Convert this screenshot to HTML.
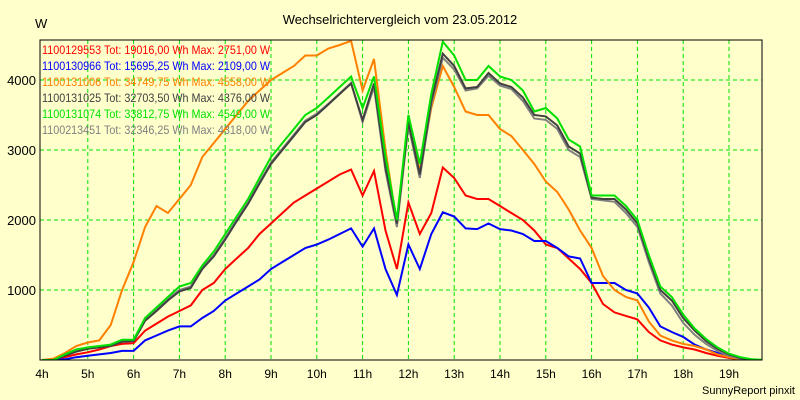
<!DOCTYPE html>
<html><head><meta charset="utf-8"><style>
html,body{margin:0;padding:0;background:#ffffcc;}
svg{display:block;font-family:"Liberation Sans",sans-serif;}
</style></head><body>
<svg id="chart" width="800" height="400" viewBox="0 0 800 400" xmlns="http://www.w3.org/2000/svg">
<rect x="0" y="0" width="800" height="400" fill="#ffffcc"/>
<text x="400" y="24" text-anchor="middle" font-size="13" fill="#000">Wechselrichtervergleich vom 23.05.2012</text>
<text x="35" y="28" font-size="13" fill="#000">W</text>
<text x="795" y="394" text-anchor="end" font-size="11" fill="#000">SunnyReport pinxit</text>
<g id="grid"></g>
<g id="series"></g>
<rect x="40" y="40" width="722" height="320" fill="none" stroke="#000" stroke-width="1"/>
<g id="legend"></g>
</svg>
<script>
const hourTicks = [4,5,6,7,8,9,10,11,12,13,14,15,16,17,18,19];
const yTicks = [1000,2000,3000,4000];
const seriesNames = ["1100129553 Tot: 19016,00 Wh Max: 2751,00 W","1100130966 Tot: 15695,25 Wh Max: 2109,00 W","1100131006 Tot: 34749,75 Wh Max: 4558,00 W","1100131025 Tot: 32703,50 Wh Max: 4376,00 W","1100131074 Tot: 33812,75 Wh Max: 4549,00 W","1100213451 Tot: 32346,25 Wh Max: 4318,00 W"];
const seriesColors = ["#ff0000","#0000ff","#ff8000","#404040","#00e000","#808080"];
const startHour = 4;
const stepHours = 0.25;
const red = [0,0,40,80,110,150,200,230,240,420,520,620,700,780,1000,1100,1300,1450,1600,1800,1950,2100,2250,2350,2450,2550,2650,2720,2350,2700,1850,1300,2250,1800,2100,2750,2600,2350,2300,2300,2200,2100,2000,1850,1650,1600,1450,1300,1100,800,680,630,580,400,280,220,180,150,100,60,30,10,0,0];
const blue = [0,0,10,40,60,80,100,130,130,280,350,420,480,480,600,700,850,950,1050,1150,1300,1400,1500,1600,1650,1720,1800,1880,1620,1880,1300,930,1650,1300,1800,2110,2050,1880,1870,1950,1870,1850,1800,1700,1700,1600,1480,1450,1100,1100,1100,1000,950,750,480,400,330,220,150,100,50,20,0,0];
const orange = [0,20,100,200,250,280,500,1000,1400,1900,2200,2100,2300,2500,2900,3100,3300,3500,3700,3850,4000,4100,4200,4350,4350,4450,4500,4558,3850,4300,3000,1950,3400,2700,3600,4200,3900,3550,3500,3500,3300,3200,3000,2800,2550,2400,2150,1850,1600,1200,1000,900,850,550,350,280,230,200,150,80,40,10,0,0];
const dark = [0,0,60,120,160,180,200,260,270,560,700,850,980,1030,1300,1480,1720,1980,2230,2520,2800,3000,3200,3400,3500,3650,3800,3950,3430,3950,2750,1950,3400,2650,3700,4376,4200,3880,3900,4100,3950,3900,3750,3500,3480,3350,3050,2950,2320,2300,2300,2150,1950,1450,1000,850,600,420,270,160,80,30,5,0];
const green = [0,0,80,150,180,200,220,290,290,600,750,900,1050,1100,1350,1550,1800,2050,2300,2600,2900,3100,3300,3500,3600,3750,3900,4050,3600,4050,2900,2000,3500,2800,3800,4549,4350,4000,4000,4200,4050,4000,3850,3550,3600,3450,3150,3050,2350,2350,2350,2200,2000,1500,1050,900,650,450,300,180,90,40,10,0];
const gray = [0,0,70,130,170,190,210,270,280,580,720,870,1000,1050,1320,1500,1740,2000,2250,2540,2820,3020,3220,3420,3520,3660,3810,3960,3400,3900,2700,1900,3350,2600,3650,4318,4150,3850,3880,4060,3920,3870,3700,3450,3430,3300,3000,2900,2300,2280,2260,2100,1900,1400,950,780,530,360,230,130,60,20,0,0];
const seriesData = [red, blue, orange, dark, green, gray];

const NS = "http://www.w3.org/2000/svg";
function xScale(h){ return 42 + (h - 4) * 45.8; }
function yScale(v){ return 360 - v * 0.07; }

const grid = document.getElementById("grid");
hourTicks.forEach(h => {
  const x = xScale(h);
  if (h > 4) {
    const l = document.createElementNS(NS, "line");
    
    
    l.setAttribute("x1", x); l.setAttribute("x2", x);
    l.setAttribute("y1", 40); l.setAttribute("y2", 360);
    l.setAttribute("stroke", "#00e000"); l.setAttribute("stroke-dasharray", "4,3");
    grid.appendChild(l);
  }
  const t = document.createElementNS(NS, "text");
  
  
  t.setAttribute("x", x); t.setAttribute("y", 378);
  t.setAttribute("text-anchor", "middle"); t.setAttribute("font-size", "12");
  t.textContent = h + "h";
  grid.appendChild(t);
});
yTicks.forEach(v => {
  const y = yScale(v);
  const l = document.createElementNS(NS, "line");
  
  
  l.setAttribute("x1", 40); l.setAttribute("x2", 762);
  l.setAttribute("y1", y); l.setAttribute("y2", y);
  l.setAttribute("stroke", "#00e000"); l.setAttribute("stroke-dasharray", "4,3");
  grid.appendChild(l);
  const t = document.createElementNS(NS, "text");
  
  
  t.setAttribute("x", 36); t.setAttribute("y", y + 5);
  t.setAttribute("text-anchor", "end"); t.setAttribute("font-size", "13");
  t.textContent = v;
  grid.appendChild(t);
});

const defs = document.createElementNS(NS, "defs");
defs.innerHTML = '<clipPath id="plotclip"><rect x="40" y="38" width="722" height="322"/></clipPath>';
document.getElementById("chart").insertBefore(defs, grid);

const sg = document.getElementById("series");
const order = [0,1,2,5,3,4];
order.forEach(i => {
  const pts = seriesData[i].map((v, k) => xScale(startHour + k * stepHours).toFixed(1) + "," + yScale(v).toFixed(1)).join(" ");
  const p = document.createElementNS(NS, "polyline");
  
  
  p.setAttribute("points", pts);
  p.setAttribute("fill", "none");
  p.setAttribute("stroke", seriesColors[i]);
  p.setAttribute("stroke-width", "2");
  p.setAttribute("clip-path", "url(#plotclip)");
  sg.appendChild(p);
});

const lg = document.getElementById("legend");
seriesNames.forEach((n, i) => {
  const t = document.createElementNS(NS, "text");
  
  
  t.setAttribute("x", 42); t.setAttribute("y", 54 + i * 16);
  t.setAttribute("font-size", "12");
  t.setAttribute("textLength", "228");
  t.setAttribute("lengthAdjust", "spacingAndGlyphs");
  t.setAttribute("fill", seriesColors[i]);
  t.textContent = n;
  lg.appendChild(t);
});
</script>
</body></html>
